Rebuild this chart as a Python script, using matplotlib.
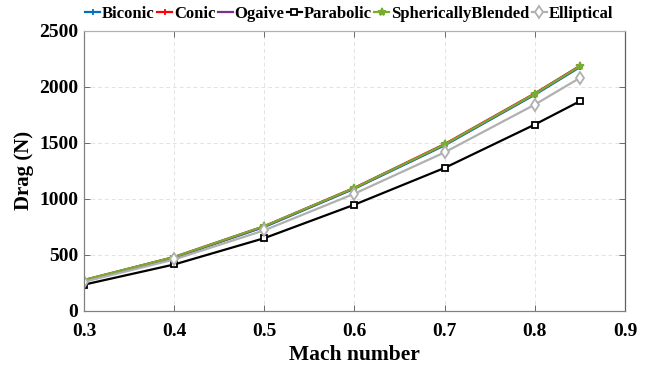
import matplotlib
matplotlib.use("Agg")
import matplotlib.pyplot as plt

mach = [0.3, 0.4, 0.5, 0.6, 0.7, 0.8, 0.85]
biconic = [272, 476, 750, 1092, 1478, 1930, 2176]
conic = [276, 482, 757, 1100, 1490, 1942, 2188]
ogaive = [274, 479, 754, 1096, 1484, 1936, 2182]
parabolic = [235, 415, 650, 949, 1277, 1664, 1872]
spherically_blended = [277, 482, 757, 1098, 1486, 1938, 2184]
elliptical = [260, 460, 720, 1047, 1416, 1842, 2080]

series = [
    ("Biconic", biconic, "#0072BD", "+", "none", 5),
    ("Conic", conic, "#FF0000", "+", "none", 5),
    ("Ogaive", ogaive, "#7E2F8E", "none", "none", 5),
    ("Parabolic", parabolic, "#000000", "s", "white", 5),
    ("SphericallyBlended", spherically_blended, "#77AC30", "*", None, 6),
    ("Elliptical", elliptical, "#B0B0B0", "d", "white", 6),
]

plt.rcParams['font.family'] = ['Liberation Serif', 'DejaVu Serif']
plt.rcParams['font.weight'] = 'bold'

fig = plt.figure(figsize=(6.51, 3.72), dpi=100)
ax = fig.add_axes([0.129, 0.164, 0.831, 0.753])

for name, vals, col, mk, mfc, ms in series:
    kw = dict(color=col, lw=1.6, marker=mk, markersize=ms, label=name,
              markeredgewidth=1.3)
    if mfc is not None:
        kw['markerfacecolor'] = mfc
    ax.plot(mach, vals, **kw)

ax.set_xlim(0.3, 0.9)
ax.set_ylim(0, 2500)
ax.set_xticks([0.3, 0.4, 0.5, 0.6, 0.7, 0.8, 0.9])
ax.set_xticklabels(["0.3", "0.4", "0.5", "0.6", "0.7", "0.8", "0.9"])
ax.set_yticks([0, 500, 1000, 1500, 2000, 2500])
ax.grid(True, linestyle=(0, (4, 3)), color="#E3E3E3", lw=0.7)
ax.tick_params(direction="in", labelsize=14, length=4, width=0.6, color="#555555",
               top=True, right=True)
ax.tick_params(axis='x', pad=9)
ax.tick_params(axis='y', pad=4)
for lab in ax.get_xticklabels() + ax.get_yticklabels():
    lab.set_fontweight('bold')
for sp in ax.spines.values():
    sp.set_color("#808080")
    sp.set_linewidth(0.9)
ax.spines['top'].set_color("#B0B0B0")
ax.spines['right'].set_color("#606060")

ax.set_xlabel("Mach number", fontsize=15.5, fontweight='bold', labelpad=3)
ax.set_ylabel("Drag (N)", fontsize=15, fontweight='bold', labelpad=4)

ax.legend(loc="center", bbox_to_anchor=(0.49, 1 + 17 / 280), ncol=6, frameon=False,
          prop={'weight': 'bold', 'size': 12}, handlelength=0.9,
          handletextpad=0.1, columnspacing=0.15, borderaxespad=0)

fig.savefig("out.png", dpi=100)
